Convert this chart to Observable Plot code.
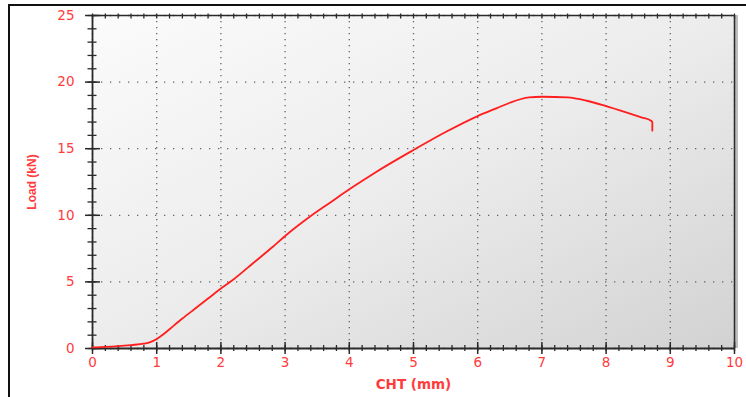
<!DOCTYPE html>
<html>
<head>
<meta charset="utf-8">
<script src="https://cdn.jsdelivr.net/npm/d3@7"></script>
<script src="https://cdn.jsdelivr.net/npm/@observablehq/plot@0.6"></script>
<style>
  html, body { margin: 0; padding: 0; background: #fff; }
  #wrap { position: relative; width: 746px; height: 397px; overflow: hidden; }
  #border { position: absolute; left: 8px; top: 4px; width: 800px; height: 500px;
            border-left: 2px solid #111; border-top: 2px solid #111; box-sizing: border-box; }
  #chart { position: absolute; left: 0; top: 0; }
</style>
</head>
<body>
<div id="wrap"><div id="border"></div><div id="chart"></div></div>
<script>
// Data
const cht  = [0, 0.2, 0.4, 0.6, 0.8, 0.9, 1.0, 1.1, 1.2, 1.4, 1.6, 1.8, 2.0, 2.2, 2.5, 2.8, 3.0, 3.4, 3.7, 4.0, 4.4, 4.8, 5.0, 5.5, 6.0, 6.3, 6.5, 6.8, 7.0, 7.4, 7.7, 8.0, 8.3, 8.55, 8.7, 8.72, 8.72];
const load = [0.08, 0.12, 0.18, 0.26, 0.36, 0.48, 0.72, 1.05, 1.45, 2.25, 3.0, 3.75, 4.5, 5.2, 6.4, 7.6, 8.45, 9.95, 10.95, 11.95, 13.2, 14.35, 14.9, 16.25, 17.45, 18.05, 18.45, 18.85, 18.9, 18.85, 18.6, 18.2, 17.75, 17.35, 17.1, 17.0, 16.35];
const xMajor = [0, 1, 2, 3, 4, 5, 6, 7, 8, 9, 10];
const yMajor = [0, 5, 10, 15, 20, 25];
const xMinor = d3.range(0, 50.5, 1).map(i => i / 5);
const yMinor = d3.range(0, 25.5, 1);
const xTitle = "CHT (mm)";
const yTitle = "Load (kN)";

const data = cht.map((x, i) => ({x, y: load[i]}));

const red = "#ff3b3b";
const axisCol = "#2a2a2a";
const labelFont = {fontFamily: "DejaVu Sans", fontSize: 13.5, fill: red};

const chart = Plot.plot({
  width: 746,
  height: 397,
  marginLeft: 92,
  marginRight: 12,
  marginTop: 15,
  marginBottom: 49,
  style: {background: "transparent", fontFamily: "DejaVu Sans"},
  x: {domain: [0, 10]},
  y: {domain: [0, 25]},
  marks: [
    Plot.frame({fill: "url(#bgGrad)", stroke: null}),
    Plot.gridX(xMajor, {stroke: "#555", strokeOpacity: 0.9, strokeWidth: 1.3, strokeDasharray: "1.3,4.7"}),
    Plot.gridY(yMajor, {stroke: "#555", strokeOpacity: 0.9, strokeWidth: 1.3, strokeDasharray: "1.3,7.7"}),
    // frame lines
    Plot.ruleX([10], {stroke: "#bdbdbd", strokeWidth: 3, dx: 2}),
    Plot.ruleX([10], {stroke: axisCol, strokeWidth: 1.5}),
    Plot.ruleY([25], {stroke: axisCol, strokeWidth: 1.5}),
    Plot.ruleX([0], {stroke: axisCol, strokeWidth: 1.8}),
    Plot.ruleY([0], {stroke: axisCol, strokeWidth: 1.8}),
    // ticks: bottom
    Plot.axisX(xMinor, {anchor: "bottom", tickSize: 6, dy: -3, text: null, label: null, stroke: axisCol, strokeWidth: 1.3}),
    Plot.axisX(xMajor, {anchor: "bottom", tickSize: 12, dy: -6, text: null, label: null, stroke: axisCol, strokeWidth: 1.5}),
    // ticks: top
    Plot.axisX(xMinor, {anchor: "top", tickSize: 5, dy: 2.5, text: null, label: null, stroke: axisCol, strokeWidth: 1.3}),
    // ticks: left
    Plot.axisY(yMinor, {anchor: "left", tickSize: 9, dx: 4.5, text: null, label: null, stroke: axisCol, strokeWidth: 1.3}),
    Plot.axisY(yMajor, {anchor: "left", tickSize: 15, dx: 8, text: null, label: null, stroke: axisCol, strokeWidth: 1.5}),
    // tick labels
    Plot.axisX(xMajor, {anchor: "bottom", tickSize: 0, tickPadding: 9, label: null, ...labelFont, letterSpacing: 1}),
    Plot.axisY(yMajor, {anchor: "left", tickSize: 0, tickPadding: 18, label: null, ...labelFont, letterSpacing: 1}),
    // axis titles
    Plot.text([xTitle], {frameAnchor: "bottom", dy: 36, lineAnchor: "middle", textAnchor: "middle", text: d => d, fill: red, fontWeight: "bold", fontSize: 13.5, fontFamily: "DejaVu Sans", letterSpacing: 3}),
    Plot.text([yTitle], {frameAnchor: "left", dx: -60, rotate: -90, textAnchor: "middle", lineAnchor: "middle", text: d => d, fill: red, fontWeight: "bold", fontSize: 12, fontFamily: "Liberation Sans"}),
    // curve
    Plot.line(data, {x: "x", y: "y", stroke: "#ff1e1e", strokeWidth: 1.8, curve: "monotone-x"})
  ]
});

const svg = d3.select(chart);
const defs = svg.insert("defs", ":first-child");
const g = defs.append("linearGradient").attr("id", "bgGrad")
  .attr("x1", "0%").attr("y1", "0%").attr("x2", "100%").attr("y2", "100%");
g.append("stop").attr("offset", "0%").attr("stop-color", "#fbfbfb");
g.append("stop").attr("offset", "50%").attr("stop-color", "#ececec");
g.append("stop").attr("offset", "100%").attr("stop-color", "#d2d2d2");

document.getElementById("chart").appendChild(chart);
</script>
</body>
</html>
